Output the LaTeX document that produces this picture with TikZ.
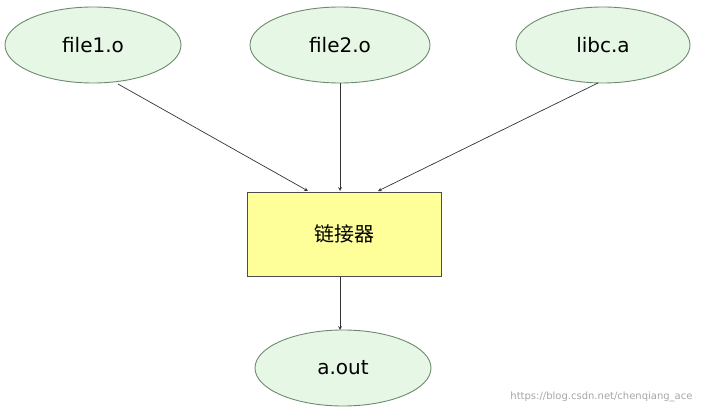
\documentclass[tikz,border=0pt]{standalone}
\usepackage{fontspec}
\setmainfont{DejaVu Sans}
\newfontfamily\cjk{Noto Sans CJK SC}
\usetikzlibrary{arrows, shapes.geometric}
\definecolor{ovalfill}{HTML}{E6F7E6}
\definecolor{ovalline}{HTML}{6E8A6E}
\definecolor{boxfill}{HTML}{FFFF99}
\begin{document}
\begin{tikzpicture}[>=stealth, x=1pt, y=-1pt,
    objfile/.style={draw=ovalline, line width=0.9pt, fill=ovalfill, ellipse, minimum width=176pt, minimum height=76pt, font=\fontsize{20}{24}\selectfont},
    linker/.style={draw=black!70, line width=0.9pt, fill=boxfill, minimum width=194pt, minimum height=84pt, font=\cjk\fontsize{20}{24}\selectfont},
    link/.style={->, line width=0.7pt, black!80}]
    \useasboundingbox (0,0) rectangle (702,414);

    \node[objfile] (file1) at (93,45) {f{}ile1.o};
    \node[objfile, minimum width=180pt] (file2) at (340,45) {f{}ile2.o};
    \node[objfile, minimum width=174pt] (libc) at (603,45) {libc.a};

    \node[linker] (ld) at (344,234) {链接器};
    \node[objfile] (aout) at (343,368) {a.out};

    \draw[link] (118,84) -- (308,191);
    \draw[link] (file2) -- (340,191);
    \draw[link] (598,83) -- (378,191);
    \draw[link] (340,277) -- (340,330);

    \node[anchor=east, text=black!35, font=\fontsize{10}{12}\selectfont] (mark) at (696,397) {https://blog.csdn.net/chenqiang\_ace};
\end{tikzpicture}
\end{document}
